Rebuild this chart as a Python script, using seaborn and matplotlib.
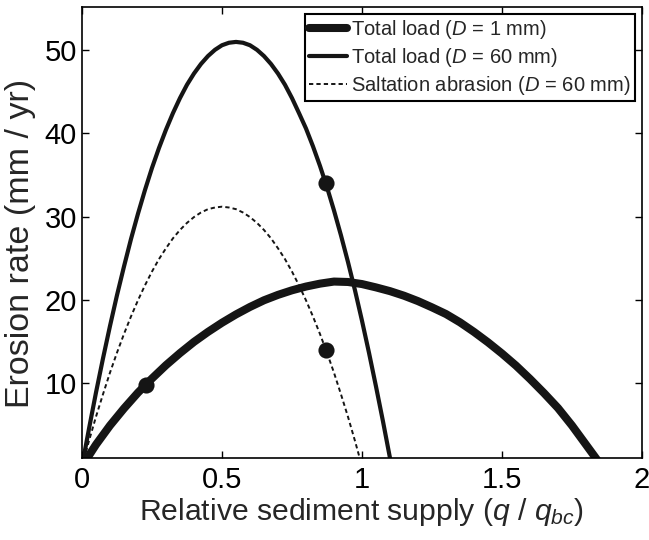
import matplotlib
matplotlib.use('Agg')
import matplotlib.pyplot as plt
import seaborn as sns

# values (q / q_bc vs erosion rate in mm/yr)
q_1mm = [0.0, 0.05, 0.1, 0.15, 0.2, 0.25, 0.3, 0.35, 0.4, 0.45, 0.5, 0.55, 0.6,
         0.65, 0.7, 0.75, 0.8, 0.85, 0.9, 0.95, 1.0, 1.05, 1.1, 1.15, 1.2, 1.25,
         1.3, 1.35, 1.4, 1.45, 1.5, 1.55, 1.6, 1.65, 1.7, 1.75, 1.8, 1.85, 1.9]
e_1mm = [0.0, 2.6, 4.9, 6.95, 8.85, 10.55, 12.15, 13.6, 14.95, 16.15, 17.25, 18.25, 19.15,
         19.95, 20.6, 21.15, 21.6, 21.95, 22.2, 22.15, 21.9, 21.5, 21.05, 20.5, 19.85, 19.1,
         18.3, 17.3, 16.15, 14.9, 13.55, 12.1, 10.5, 8.8, 7.0, 4.9, 2.6, 0.3, -2.0]

q_60mm = [0.0, 0.025, 0.05, 0.075, 0.1, 0.125, 0.15, 0.175, 0.2, 0.225, 0.25, 0.275,
          0.3, 0.325, 0.35, 0.375, 0.4, 0.425, 0.45, 0.475, 0.5, 0.525, 0.55, 0.575,
          0.6, 0.625, 0.65, 0.675, 0.7, 0.725, 0.75, 0.775, 0.8, 0.825, 0.85, 0.875,
          0.9, 0.925, 0.95, 0.975, 1.0, 1.025, 1.05, 1.075, 1.1, 1.125]
e_60mm = [0.0, 4.5, 8.85, 12.95, 16.85, 20.55, 24.0, 27.3, 30.35, 33.2, 35.85, 38.25,
          40.45, 42.45, 44.25, 45.85, 47.2, 48.35, 49.3, 50.05, 50.6, 50.9, 51.0, 50.9,
          50.6, 50.05, 49.3, 48.35, 47.2, 45.85, 44.25, 42.45, 40.6, 38.45, 36.1, 33.55,
          30.75, 27.75, 24.55, 21.15, 17.5, 13.65, 9.6, 5.4, 1.0, -3.5]

q_salt = [0.0, 0.025, 0.05, 0.075, 0.1, 0.125, 0.15, 0.175, 0.2, 0.225, 0.25, 0.275,
          0.3, 0.325, 0.35, 0.375, 0.4, 0.425, 0.45, 0.475, 0.5, 0.525, 0.55, 0.575,
          0.6, 0.625, 0.65, 0.675, 0.7, 0.725, 0.75, 0.775, 0.8, 0.825, 0.85, 0.875,
          0.9, 0.925, 0.95, 0.975, 1.0, 1.025]
e_salt = [0.0, 3.05, 5.95, 8.65, 11.25, 13.65, 15.9, 18.0, 19.95, 21.75, 23.4, 24.9,
          26.2, 27.4, 28.4, 29.25, 29.95, 30.5, 30.9, 31.1, 31.2, 31.1, 30.9, 30.5,
          29.95, 29.25, 28.4, 27.4, 26.2, 24.9, 23.4, 21.75, 19.95, 18.0, 15.9, 13.65,
          11.25, 8.65, 5.95, 3.05, 0.0, -3.2]

q_pts = [0.23, 0.87, 0.87]
e_pts = [9.8, 34.1, 14.0]

sns.set_style('ticks')
plt.rcParams['font.family'] = ['Liberation Sans', 'DejaVu Sans']
plt.rcParams['mathtext.fontset'] = 'custom'
plt.rcParams['mathtext.rm'] = 'Liberation Sans'
plt.rcParams['mathtext.it'] = 'Liberation Sans:italic'

ink = '#151515'

fig = plt.figure(figsize=(6.49, 5.40), dpi=100)
ax = fig.add_axes([0.1263, 0.1519, 0.8629, 0.8352])

sns.lineplot(x=q_1mm, y=e_1mm, ax=ax, color=ink, linewidth=5.8, sort=False,
             estimator=None, solid_joinstyle='round',
             label=r'Total load ($D$ = 1 mm)')
sns.lineplot(x=q_60mm, y=e_60mm, ax=ax, color=ink, linewidth=3.0, sort=False,
             estimator=None, solid_joinstyle='round',
             label=r'Total load ($D$ = 60 mm)')
sns.lineplot(x=q_salt, y=e_salt, ax=ax, color=ink, linewidth=1.4, sort=False,
             estimator=None, linestyle=(0, (2.2, 1.6)),
             label=r'Saltation abrasion ($D$ = 60 mm)')
sns.scatterplot(x=q_pts, y=e_pts, ax=ax, s=135, color=ink, edgecolor=ink,
                linewidth=0, zorder=4, legend=False)

ax.set_xlim(0, 2)
ax.set_ylim(1, 55.2)
ax.set_xticks([0, 0.5, 1, 1.5, 2])
ax.set_xticklabels(['0', '0.5', '1', '1.5', '2'])
ax.set_yticks([10, 20, 30, 40, 50])
ax.tick_params(direction='in', top=True, right=True, length=5, width=1,
               labelsize=21, colors='black')
ax.tick_params(axis='x', pad=6)
ax.tick_params(axis='y', pad=3.5)
for sp in ax.spines.values():
    sp.set_linewidth(1.2)
    sp.set_color('black')

ax.set_xlabel(r'Relative sediment supply ($q$ / $q_{bc}$)', fontsize=21.7, labelpad=1)
ax.set_ylabel('Erosion rate (mm / yr)', fontsize=24.5)
ax.yaxis.set_label_coords(-0.082, 0.475)

leg = ax.legend(loc='upper right', fontsize=14.5, frameon=True, fancybox=False,
                edgecolor='black', framealpha=1, handlelength=1.9,
                handletextpad=0.2, labelspacing=0.25, borderpad=0.2,
                borderaxespad=0.35)
leg.get_frame().set_linewidth(1.5)

fig.savefig('out.png', dpi=100)
